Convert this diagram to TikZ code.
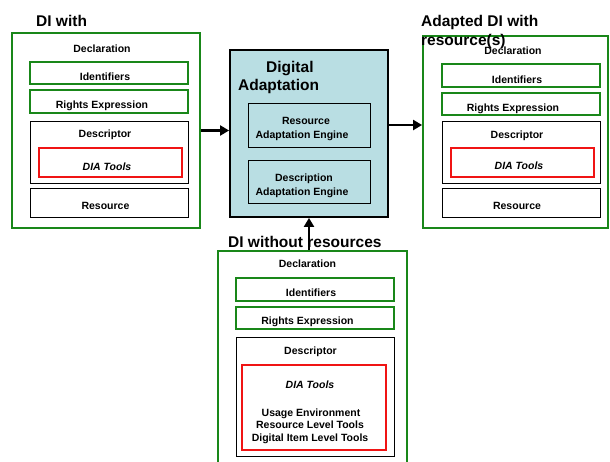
\documentclass[tikz,border=0pt]{standalone}
\usepackage{fontspec}
\setmainfont{Liberation Sans}
\usetikzlibrary{arrows.meta}
\definecolor{dgreen}{RGB}{25,135,25}
\definecolor{dared}{RGB}{240,20,20}
\definecolor{dablue}{RGB}{185,222,227}
\tikzset{
 gbox/.style={draw=dgreen, line width=1.8pt, inner sep=0pt},
 kbox/.style={draw=black, line width=1pt, inner sep=0pt},
 rbox/.style={draw=dared, line width=1.5pt, inner sep=0pt},
 sm/.style={font=\fontsize{10.5}{12}\selectfont\bfseries, anchor=base, inner sep=0pt},
 ttl/.style={font=\fontsize{15.5}{18}\selectfont\bfseries, anchor=base west, inner sep=0pt},
 arr/.style={line width=2.2pt, -{Triangle[length=9pt,width=10pt]}},
}
\begin{document}
\begin{tikzpicture}[x=1pt,y=-1pt]
\useasboundingbox (0,0) rectangle (610,461);
% ---------- left: DI with
\node[ttl] (t1) at (36,26) {DI with};
\node[gbox, minimum width=188pt, minimum height=195pt] (lout) at (106,130.5) {};
\node[sm] (ldecl) at (102,52) {Declaration};
\node[gbox, minimum width=158pt, minimum height=22pt] (lid) at (109,73) {};
\node[sm] (lidt) at (105,80) {Identifiers};
\node[gbox, minimum width=158pt, minimum height=23pt] (lri) at (109,101.5) {};
\node[sm] (lrit) at (102,108) {Rights Expression};
\node[kbox, minimum width=158pt, minimum height=62pt] (lde) at (109,152) {};
\node[sm] (ldet) at (105,137) {Descriptor};
\node[rbox, minimum width=143pt, minimum height=29pt] (ldia) at (110.5,162.5) {};
\node[sm, font=\fontsize{10.5}{12}\selectfont\bfseries\itshape] (ldiat) at (107,170) {DIA Tools};
\node[kbox, minimum width=158pt, minimum height=29pt] (lres) at (109,202.5) {};
\node[sm] (lrest) at (105.5,209) {Resource};
% ---------- digital adaptation
\node[draw=black, fill=dablue, line width=1.8pt, minimum width=158pt, minimum height=167pt, inner sep=0pt] (dig) at (309,133.5) {};
\node[ttl] (dt1) at (266,72) {Digital};
\node[ttl] (dt2) at (238,90) {Adaptation};
\node[kbox, minimum width=122pt, minimum height=44pt] (rae) at (309,125) {};
\node[sm] (rae1) at (306,124) {Resource};
\node[sm] (rae2) at (302,138) {Adaptation Engine};
\node[kbox, minimum width=122pt, minimum height=43pt] (dae) at (309,181.5) {};
\node[sm] (dae1) at (304,181) {Description};
\node[sm] (dae2) at (302,195) {Adaptation Engine};
% ---------- right: adapted DI
\node[gbox, minimum width=185pt, minimum height=192pt] (rout) at (515.5,132) {};
\node[ttl] (t3a) at (421,26) {Adapted DI with};
\node[ttl] (t3b) at (421,45) {resource(s)};
\node[sm] (rdecl) at (513,54) {Declaration};
\node[gbox, minimum width=158pt, minimum height=23pt] (rid) at (521,75.5) {};
\node[sm] (ridt) at (517,83) {Identifiers};
\node[gbox, minimum width=158pt, minimum height=22pt] (rri) at (521,104) {};
\node[sm] (rrit) at (513,111) {Rights Expression};
\node[kbox, minimum width=158pt, minimum height=62pt] (rde) at (521,152) {};
\node[sm] (rdet) at (517,138) {Descriptor};
\node[rbox, minimum width=143pt, minimum height=29pt] (rdia) at (522.5,162.5) {};
\node[sm, font=\fontsize{10.5}{12}\selectfont\bfseries\itshape] (rdiat) at (519,169) {DIA Tools};
\node[kbox, minimum width=158pt, minimum height=29pt] (rres) at (521,202.5) {};
\node[sm] (rrest) at (517,209) {Resource};
% ---------- bottom: DI without resources
\node[ttl] (t2) at (228,247) {DI without resources};
\node[gbox, minimum width=189pt, minimum height=219pt] (bout) at (312.5,360.5) {};
\node[sm] (bdecl) at (307.5,267) {Declaration};
\node[gbox, minimum width=158pt, minimum height=23pt] (bid) at (315,289.5) {};
\node[sm] (bidt) at (311,296) {Identifiers};
\node[gbox, minimum width=158pt, minimum height=22pt] (bri) at (315,318) {};
\node[sm] (brit) at (307.5,324) {Rights Expression};
\node[kbox, minimum width=158pt, minimum height=119pt] (bde) at (315,396.5) {};
\node[sm] (bdet) at (310.5,354) {Descriptor};
\node[rbox, minimum width=144pt, minimum height=85pt] (bdia) at (314,407.5) {};
\node[sm, font=\fontsize{10.5}{12}\selectfont\bfseries\itshape] (bdiat) at (310,388) {DIA Tools};
\node[sm] (bu1) at (311,416) {Usage Environment};
\node[sm] (bu2) at (310,428) {Resource Level Tools};
\node[sm] (bu3) at (310,441) {Digital Item Level Tools};
% ---------- arrows
\draw[arr] (lout.east) -- (lout.east -| dig.west);
\draw[arr] (dig.east |- rae.center) -- (rout.west |- rae.center);
\draw[arr] (dig.south |- bout.north) -- (dig.south);
\end{tikzpicture}
\end{document}
